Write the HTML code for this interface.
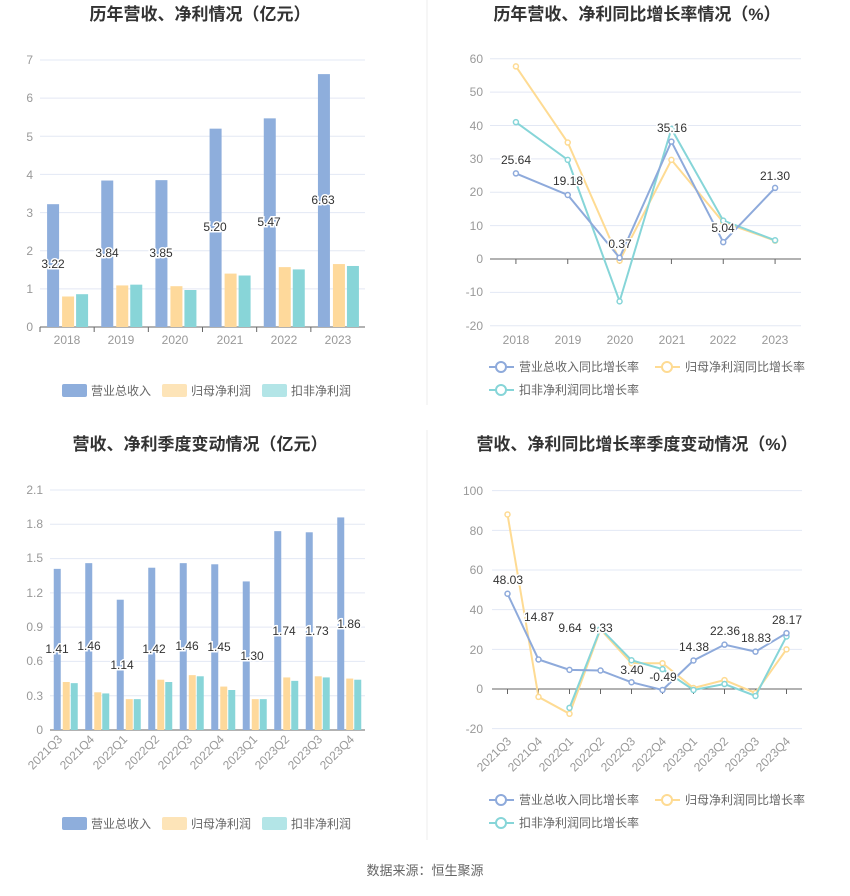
<!DOCTYPE html>
<html><head><meta charset="utf-8"><style>
body{margin:0;background:#fff;width:850px;height:891px;overflow:hidden}
svg{font-family:"Liberation Sans","Noto Sans CJK SC",sans-serif}
.t{font-size:17px;font-weight:bold;fill:#333;text-anchor:middle}
.ax{font-size:12px;fill:#999}
.lg{font-size:12px;fill:#666}
.lb{font-size:12px;fill:#333;stroke:#fff;stroke-width:3px;paint-order:stroke;text-anchor:middle}
</style></head><body>
<svg id="s" width="850" height="891" xmlns="http://www.w3.org/2000/svg">
<line x1="427" y1="0" x2="427" y2="405" stroke="#eee"/>
<line x1="427" y1="430" x2="427" y2="840" stroke="#eee"/>
<text class="t" x="200" y="20">历年营收、净利情况（亿元）</text>
<text class="t" x="637" y="20">历年营收、净利同比增长率情况（%）</text>
<text class="t" x="200" y="450">营收、净利季度变动情况（亿元）</text>
<text class="t" x="637" y="450">营收、净利同比增长率季度变动情况（%）</text>
<g class="ax" text-anchor="end">
<text x="33" y="331">0</text><text x="33" y="293">1</text><text x="33" y="255">2</text><text x="33" y="217">3</text><text x="33" y="179">4</text><text x="33" y="141">5</text><text x="33" y="102">6</text><text x="33" y="64">7</text>
<text x="483" y="63">60</text><text x="483" y="96">50</text><text x="483" y="130">40</text><text x="483" y="163">30</text><text x="483" y="196">20</text><text x="483" y="230">10</text><text x="483" y="263">0</text><text x="483" y="296">-10</text><text x="483" y="330">-20</text>
<text x="43" y="494">2.1</text><text x="43" y="528">1.8</text><text x="43" y="562">1.5</text><text x="43" y="597">1.2</text><text x="43" y="631">0.9</text><text x="43" y="665">0.6</text><text x="43" y="700">0.3</text><text x="43" y="734">0</text>
<text x="483" y="495">100</text><text x="483" y="535">80</text><text x="483" y="574">60</text><text x="483" y="614">40</text><text x="483" y="654">20</text><text x="483" y="693">0</text><text x="483" y="733">-20</text>
</g>
<g class="ax" text-anchor="middle">
<text x="67" y="344">2018</text><text x="121" y="344">2019</text><text x="175" y="344">2020</text><text x="230" y="344">2021</text><text x="284" y="344">2022</text><text x="338" y="344">2023</text>
<text x="516" y="344">2018</text><text x="568" y="344">2019</text><text x="620" y="344">2020</text><text x="672" y="344">2021</text><text x="723" y="344">2022</text><text x="775" y="344">2023</text>
</g>
<g class="ax" text-anchor="end">
<text transform="translate(63,740) rotate(-45)">2021Q3</text><text transform="translate(95,740) rotate(-45)">2021Q4</text><text transform="translate(128,740) rotate(-45)">2022Q1</text><text transform="translate(160,740) rotate(-45)">2022Q2</text><text transform="translate(193,740) rotate(-45)">2022Q3</text><text transform="translate(225,740) rotate(-45)">2022Q4</text><text transform="translate(258,740) rotate(-45)">2023Q1</text><text transform="translate(290,740) rotate(-45)">2023Q2</text><text transform="translate(323,740) rotate(-45)">2023Q3</text><text transform="translate(355,740) rotate(-45)">2023Q4</text>
<text transform="translate(512,742) rotate(-45)">2021Q3</text><text transform="translate(543,742) rotate(-45)">2021Q4</text><text transform="translate(574,742) rotate(-45)">2022Q1</text><text transform="translate(605,742) rotate(-45)">2022Q2</text><text transform="translate(636,742) rotate(-45)">2022Q3</text><text transform="translate(667,742) rotate(-45)">2022Q4</text><text transform="translate(698,742) rotate(-45)">2023Q1</text><text transform="translate(729,742) rotate(-45)">2023Q2</text><text transform="translate(760,742) rotate(-45)">2023Q3</text><text transform="translate(791,742) rotate(-45)">2023Q4</text>
</g>
<g id="g"></g>
<g id="lbls">
<text class="lb" x="53" y="268">3.22</text><text class="lb" x="107" y="257">3.84</text><text class="lb" x="161" y="257">3.85</text><text class="lb" x="215" y="231">5.20</text><text class="lb" x="269" y="226">5.47</text><text class="lb" x="323" y="204">6.63</text>
<text class="lb" x="516" y="164">25.64</text><text class="lb" x="568" y="185">19.18</text><text class="lb" x="620" y="248">0.37</text><text class="lb" x="672" y="132">35.16</text><text class="lb" x="723" y="232">5.04</text><text class="lb" x="775" y="180">21.30</text>
<text class="lb" x="57" y="653">1.41</text><text class="lb" x="89" y="650">1.46</text><text class="lb" x="122" y="669">1.14</text><text class="lb" x="154" y="653">1.42</text><text class="lb" x="187" y="650">1.46</text><text class="lb" x="219" y="651">1.45</text><text class="lb" x="252" y="660">1.30</text><text class="lb" x="284" y="635">1.74</text><text class="lb" x="317" y="635">1.73</text><text class="lb" x="349" y="628">1.86</text>
<text class="lb" x="508" y="584">48.03</text><text class="lb" x="539" y="621">14.87</text><text class="lb" x="570" y="632">9.64</text><text class="lb" x="601" y="632">9.33</text><text class="lb" x="632" y="674">3.40</text><text class="lb" x="663" y="681">-0.49</text><text class="lb" x="694" y="651">14.38</text><text class="lb" x="725" y="635">22.36</text><text class="lb" x="756" y="642">18.83</text><text class="lb" x="787" y="624">28.17</text>
</g>
<g class="lg">
<rect x="62" y="384" width="25" height="13" rx="2" fill="#8eaedc"/><text x="91" y="395">营业总收入</text>
<rect x="162" y="384" width="25" height="13" rx="2" fill="#fde4b8"/><text x="191" y="395">归母净利润</text>
<rect x="262" y="384" width="25" height="13" rx="2" fill="#b3e5e7"/><text x="291" y="395">扣非净利润</text>
<rect x="62" y="817" width="25" height="13" rx="2" fill="#8eaedc"/><text x="91" y="828">营业总收入</text>
<rect x="162" y="817" width="25" height="13" rx="2" fill="#fde4b8"/><text x="191" y="828">归母净利润</text>
<rect x="262" y="817" width="25" height="13" rx="2" fill="#b3e5e7"/><text x="291" y="828">扣非净利润</text>
<g fill="#fff" stroke-width="2">
<line x1="489" y1="367" x2="514" y2="367" stroke="#8eaadb"/><circle cx="501" cy="367" r="5" stroke="#8eaadb"/>
<line x1="655" y1="367" x2="680" y2="367" stroke="#fedb93"/><circle cx="667" cy="367" r="5" stroke="#fedb93"/>
<line x1="489" y1="390" x2="514" y2="390" stroke="#86d5d8"/><circle cx="501" cy="390" r="5" stroke="#86d5d8"/>
<line x1="489" y1="800" x2="514" y2="800" stroke="#8eaadb"/><circle cx="501" cy="800" r="5" stroke="#8eaadb"/>
<line x1="655" y1="800" x2="680" y2="800" stroke="#fedb93"/><circle cx="667" cy="800" r="5" stroke="#fedb93"/>
<line x1="489" y1="823" x2="514" y2="823" stroke="#86d5d8"/><circle cx="501" cy="823" r="5" stroke="#86d5d8"/>
</g>
<text x="519" y="371">营业总收入同比增长率</text><text x="685" y="371">归母净利润同比增长率</text><text x="519" y="394">扣非净利润同比增长率</text>
<text x="519" y="804">营业总收入同比增长率</text><text x="685" y="804">归母净利润同比增长率</text><text x="519" y="827">扣非净利润同比增长率</text>
</g>
<text x="425" y="875" text-anchor="middle" style="font-size:13px;fill:#666">数据来源：恒生聚源</text>
</svg>
<script>
var g=document.getElementById('g'),NS='http://www.w3.org/2000/svg';
function el(t,a){var e=document.createElementNS(NS,t);for(var k in a)e.setAttribute(k,a[k]);g.appendChild(e);return e;}
var B='#8eaedc',O='#fed99b',T='#88d5d8',LB='#8eaadb',LO='#fedb93',LT='#86d5d8';
function grid(x0,x1,ys,zero){ys.forEach(function(y){el('line',{x1:x0,x2:x1,y1:y,y2:y,stroke:'#e3e8f4'});});el('line',{x1:x0,x2:x1,y1:zero,y2:zero,stroke:'#666'});}
var y0=327,s=267/7,gy=[];for(var i=1;i<=7;i++)gy.push(y0-i*s);grid(40,365,gy,y0);
var b1=[3.22,3.84,3.85,5.20,5.47,6.63],o1=[0.8,1.09,1.07,1.40,1.57,1.65],t1=[0.86,1.11,0.97,1.35,1.51,1.60];
for(i=0;i<6;i++){var c=40+54.17*(i+.5);el('line',{x1:40+54.17*i,x2:40+54.17*i,y1:y0,y2:y0+5,stroke:'#666'});
[[b1,-20,B],[o1,-5,O],[t1,9,T]].forEach(function(q){var h=q[0][i]*s;el('rect',{x:c+q[1],y:y0-h,width:12,height:h,fill:q[2]});});}
y0=730;s=240/2.1;gy=[];for(i=1;i<=7;i++)gy.push(y0-i*0.3*s);grid(50,365,gy,y0);
var b3=[1.41,1.46,1.14,1.42,1.46,1.45,1.30,1.74,1.73,1.86],o3=[0.42,0.33,0.27,0.44,0.48,0.38,0.27,0.46,0.47,0.45],t3=[0.41,0.32,0.27,0.42,0.47,0.35,0.27,0.43,0.46,0.44];
var w3=31.5;
for(i=0;i<10;i++){var c=50+w3*(i+.5);
[[b3,-12,B],[o3,-3,O],[t3,5,T]].forEach(function(q){var h=q[0][i]*s;el('rect',{x:c+q[1],y:y0-h,width:7,height:h,fill:q[2]});});}
function lines(x0,x1,n,zero,sc,ticks,series){
 var gy=ticks.map(function(v){return zero-v*sc;});grid(x0,x1,gy,zero);
 var st=(x1-x0)/n;for(var i=0;i<n;i++){var c=x0+st*(i+.5);el('line',{x1:c,x2:c,y1:zero,y2:zero+5,stroke:'#666'});}
 series.forEach(function(q){var d=q[0],col=q[1],st0=q[2]||0,pts=[];
  for(var i=st0;i<d.length;i++)pts.push((x0+st*(i+.5))+','+(zero-d[i]*sc));
  el('polyline',{points:pts.join(' '),fill:'none',stroke:col,'stroke-width':2});
  for(i=st0;i<d.length;i++)el('circle',{cx:x0+st*(i+.5),cy:zero-d[i]*sc,r:2.5,fill:'#fff',stroke:col,'stroke-width':1.5});});}
lines(490,801,6,259,267/80,[60,50,40,30,20,10,-10,-20],[
 [[57.7,34.9,-0.5,29.7,11,5.5],LO],[[41,29.7,-12.7,39,11.5,5.6],LT],[[25.64,19.18,0.37,35.16,5.04,21.30],LB]]);
lines(492,802,10,689,238/120,[100,80,60,40,20,-20],[
 [[88,-4,-12.5,30,13,13,0.5,4.5,-2,20],LO],[[0,0,-9.5,30.5,14.5,10,-0.5,2.5,-3.5,26.5],LT,2],[[48.03,14.87,9.64,9.33,3.40,-0.49,14.38,22.36,18.83,28.17],LB]]);
var l=document.getElementById('lbls');l.parentNode.appendChild(l);
</script>
</body></html>
